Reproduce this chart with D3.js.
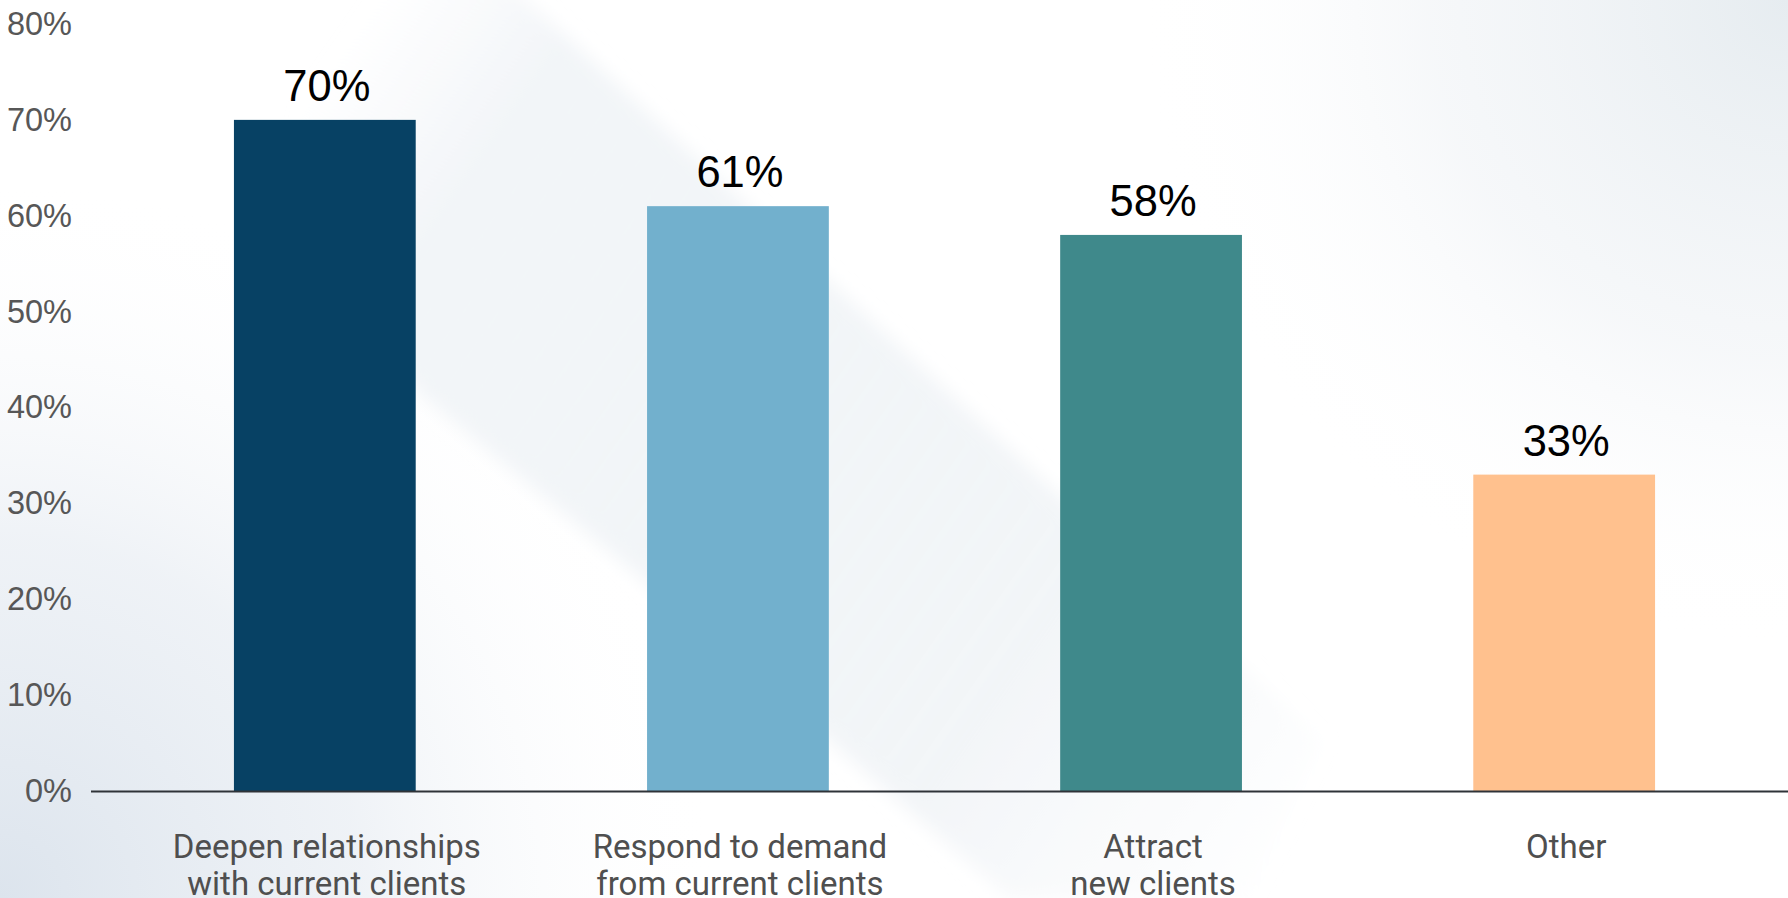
<!DOCTYPE html>
<html>
<head>
<meta charset="utf-8">
<script src="https://cdn.jsdelivr.net/npm/d3@7"></script>
<style>
  html, body { margin: 0; padding: 0; background: #ffffff; }
  svg { display: block; }
</style>
</head>
<body>
<svg id="chart" width="1788" height="898"></svg>
<script>
// Survey results: share of respondents by reason
const categories = [
  ["Deepen relationships", "with current clients"],
  ["Respond to demand", "from current clients"],
  ["Attract", "new clients"],
  ["Other"]
];
const values = [70, 61, 58, 33];
const barColors = ["#074164", "#72b0cd", "#3f898b", "#ffc18e"];
const yTicks = [0, 10, 20, 30, 40, 50, 60, 70, 80];

const W = 1788, H = 898;
const svg = d3.select("#chart");
const defs = svg.append("defs");

// ---- soft backdrop ----
const rg1 = defs.append("radialGradient").attr("id", "bgLowerLeft")
  .attr("gradientUnits", "userSpaceOnUse").attr("cx", 0).attr("cy", 898).attr("r", 720);
rg1.append("stop").attr("offset", 0).attr("stop-color", "#dce4ed").attr("stop-opacity", 1);
rg1.append("stop").attr("offset", 0.5).attr("stop-color", "#e8edf3").attr("stop-opacity", 0.7);
rg1.append("stop").attr("offset", 1).attr("stop-color", "#ffffff").attr("stop-opacity", 0);

const rg2 = defs.append("radialGradient").attr("id", "bgUpperRight")
  .attr("gradientUnits", "userSpaceOnUse").attr("cx", 1788).attr("cy", 0).attr("r", 650);
rg2.append("stop").attr("offset", 0).attr("stop-color", "#e6ecf0").attr("stop-opacity", 1);
rg2.append("stop").attr("offset", 0.55).attr("stop-color", "#f0f3f6").attr("stop-opacity", 0.6);
rg2.append("stop").attr("offset", 1).attr("stop-color", "#ffffff").attr("stop-opacity", 0);

// ribbon shading fades in from the left and out towards the lower right
const lg = defs.append("linearGradient").attr("id", "ribbonFade")
  .attr("gradientUnits", "userSpaceOnUse").attr("x1", 300).attr("y1", 100).attr("x2", 1300).attr("y2", 800);
lg.append("stop").attr("offset", 0).attr("stop-color", "#f4f6f9").attr("stop-opacity", 0);
lg.append("stop").attr("offset", 0.15).attr("stop-color", "#f2f5f8").attr("stop-opacity", 1);
lg.append("stop").attr("offset", 0.75).attr("stop-color", "#f1f4f7").attr("stop-opacity", 0.9);
lg.append("stop").attr("offset", 1).attr("stop-color", "#f6f8fa").attr("stop-opacity", 0.2);

const blur = defs.append("filter").attr("id", "soft").attr("x", "-20%").attr("y", "-20%")
  .attr("width", "140%").attr("height", "140%");
blur.append("feGaussianBlur").attr("stdDeviation", 9);

const bg = svg.append("g");
bg.append("rect").attr("width", W).attr("height", H).attr("fill", "#ffffff");
bg.append("rect").attr("width", W).attr("height", H).attr("fill", "url(#bgLowerLeft)");
bg.append("rect").attr("width", W).attr("height", H).attr("fill", "url(#bgUpperRight)");
// diagonal ribbon sweeping down to the right
bg.append("path")
  .attr("d", "M300,-20 L505,-20 L1323,741 L1250,898 L1010,898 L640,577 L417,392 L300,240 Z")
  .attr("fill", "url(#ribbonFade)")
  .attr("filter", "url(#soft)");

// ---- scales ----
const x = d3.scaleBand()
  .domain(d3.range(values.length))
  .range([91, 1798])
  .paddingInner(0.56)
  .paddingOuter(0.346);

const y = d3.scaleLinear().domain([0, 80]).range([791, 24]);

// ---- y axis labels ----
const yAxis = d3.axisLeft(y)
  .tickValues(yTicks)
  .tickFormat(d => d + "%")
  .tickSize(0)
  .tickPadding(0);

const gy = svg.append("g").attr("transform", "translate(72,0)").call(yAxis);
gy.select(".domain").remove();
gy.selectAll("text")
  .attr("font-family", "'Liberation Sans', Arial, sans-serif")
  .attr("font-size", 32.5)
  .attr("fill", "#575757");

// ---- bars ----
svg.append("g").selectAll("rect")
  .data(values)
  .join("rect")
  .attr("x", (d, i) => x(i))
  .attr("width", x.bandwidth())
  .attr("y", d => y(d))
  .attr("height", d => y(0) - y(d))
  .attr("fill", (d, i) => barColors[i]);

// ---- value labels ----
svg.append("g").selectAll("text")
  .data(values)
  .join("text")
  .attr("x", (d, i) => x(i) + x.bandwidth() / 2 + 2)
  .attr("y", d => y(d) - 19)
  .attr("text-anchor", "middle")
  .attr("font-family", "'Liberation Sans', Arial, sans-serif")
  .attr("font-size", 43.5)
  .attr("fill", "#000000")
  .text(d => d + "%");

// ---- baseline ----
svg.append("line")
  .attr("x1", 91).attr("x2", W)
  .attr("y1", y(0) + 0.5).attr("y2", y(0) + 0.5)
  .attr("stroke", "#2f3338").attr("stroke-width", 2);

// ---- category labels ----
const cat = svg.append("g").selectAll("text")
  .data(categories)
  .join("text")
  .attr("text-anchor", "middle")
  .attr("font-family", "Roboto, 'Noto Sans', sans-serif")
  .attr("font-size", 33)
  .attr("fill", "#4f4f4f");
cat.each(function (lines, i) {
  const t = d3.select(this);
  lines.forEach((ln, k) => {
    t.append("tspan")
      .attr("x", x(i) + x.bandwidth() / 2 + 2)
      .attr("y", 858 + k * 37)
      .text(ln);
  });
});
</script>
</body>
</html>
